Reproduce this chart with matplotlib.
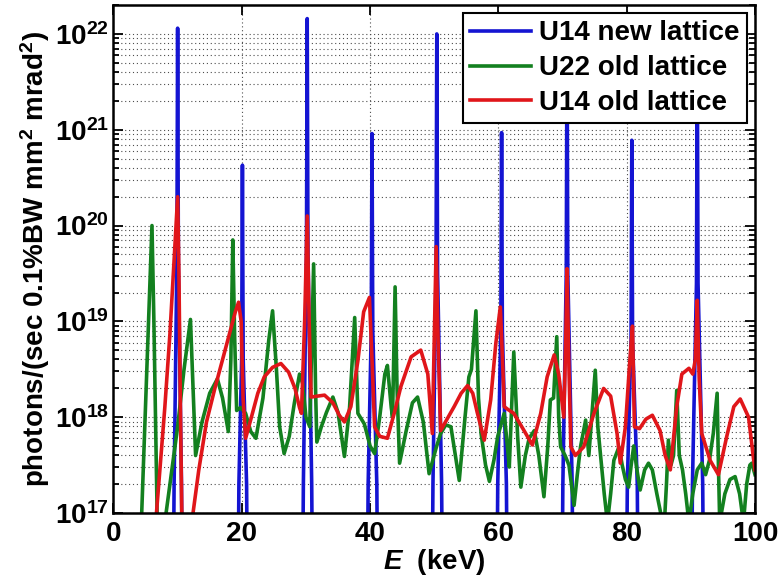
import numpy as np
import matplotlib
matplotlib.use('Agg')
import matplotlib.pyplot as plt
from matplotlib.ticker import FixedLocator, LogLocator, NullFormatter, FuncFormatter

plt.rcParams['font.family'] = ['Liberation Sans', 'DejaVu Sans']
plt.rcParams['font.weight'] = 'bold'
plt.rcParams['mathtext.fontset'] = 'custom'
plt.rcParams['mathtext.rm'] = 'Liberation Sans:bold'
plt.rcParams['mathtext.bf'] = 'Liberation Sans:bold'
plt.rcParams['mathtext.it'] = 'Liberation Sans:italic:bold'
plt.rcParams['mathtext.bfit'] = 'Liberation Sans:italic:bold'

# values, stored as log10(photons/...)
# U14 new lattice: narrow harmonic peaks
u14new_E = [9.25, 9.45, 9.88, 10.0, 10.12, 10.6, 10.8,
            19.35, 19.55, 19.98, 20.1, 20.22, 20.75, 20.95,
            29.4, 29.6, 30.08, 30.2, 30.32, 30.9, 31.1,
            39.5, 39.7, 40.18, 40.3, 40.42, 41.05, 41.25,
            49.6, 49.8, 50.28, 50.4, 50.52, 51.15, 51.35,
            59.7, 59.9, 60.38, 60.5, 60.62, 61.25, 61.45,
            69.85, 70.05, 70.58, 70.7, 70.82, 71.5, 71.7,
            79.9, 80.1, 80.68, 80.8, 80.92, 81.65, 81.85,
            90.05, 90.25, 90.88, 91.0, 91.12, 91.85, 92.05]
u14new_log = [15.5, 17.3, 19.6, 22.06, 19.6, 17.3, 15.5,
              15.5, 17.3, 18.6, 20.63, 18.6, 17.3, 15.5,
              15.5, 17.3, 19.7, 22.16, 19.7, 17.3, 15.5,
              15.5, 17.3, 18.9, 20.96, 18.9, 17.3, 15.5,
              15.5, 17.3, 19.5, 22.0, 19.5, 17.3, 15.5,
              15.5, 17.3, 18.9, 20.97, 18.9, 17.3, 15.5,
              15.5, 17.3, 19.5, 22.05, 19.5, 17.3, 15.5,
              15.5, 17.3, 18.8, 20.89, 18.8, 17.3, 15.5,
              15.5, 17.3, 19.4, 21.95, 19.4, 17.3, 15.5]

# U22 old lattice
u22old_E = [4.0, 4.4, 5.2, 6.0, 6.3, 6.8, 7.0,
            8.0, 8.2, 10.0, 11.0, 12.0, 12.4, 12.8, 13.8, 15.0, 16.2, 17.0, 17.9,
            18.3, 18.6, 18.9, 19.2, 19.8, 20.6, 21.4, 22.2, 23.3, 24.2, 24.8, 25.4,
            25.9, 26.6, 27.4, 28.2, 29.0, 29.5, 30.0, 30.6, 31.2, 31.5, 31.7, 32.4,
            33.2, 34.2, 35.0, 36.0, 36.8, 37.6, 38.1, 39.1, 40.0, 40.7, 41.5, 42.3,
            42.7, 43.3, 43.5, 43.9, 44.2, 44.6, 45.6, 46.6, 47.4, 48.3, 49.2, 50.3,
            51.0, 51.8, 52.6, 53.3, 53.9, 54.8, 55.4, 55.8, 56.5, 56.9, 57.3, 58.0,
            58.6, 59.3, 59.9, 60.9, 61.4, 61.7, 62.4, 63.0, 63.5, 64.2, 64.8, 65.6,
            66.3, 67.1, 67.7, 68.1, 68.6, 69.1, 69.4, 69.7, 70.4, 71.0, 71.8, 72.3,
            72.8, 73.6, 74.1, 75.1, 75.5, 75.9, 76.5, 77.0, 77.5, 78.0, 78.8, 79.3,
            79.8, 80.3, 80.7, 81.1, 81.6, 82.1, 82.8, 83.4, 84.0, 84.7, 85.3, 85.8,
            86.2, 86.5, 86.9, 87.3, 87.8, 88.2, 88.7, 89.2, 89.7, 90.3, 91.0, 91.7,
            92.3, 92.9, 93.5, 94.1, 94.3, 94.5, 95.3, 96.1, 96.9, 97.6, 98.2, 98.7,
            99.2, 99.5, 100.0]
u22old_log = [16.5, 17.0, 18.5, 20.0, 19.0, 17.0, 16.5,
              16.5, 17.0, 17.9, 18.5, 19.02, 18.3, 17.6, 17.95, 18.25, 18.4, 18.2, 17.85,
              18.6, 19.85, 18.8, 18.07, 18.1, 18.04, 17.85, 17.78, 18.2, 18.8, 19.11, 18.5,
              17.9, 17.62, 17.8, 18.15, 18.45, 18.35, 18.0, 17.9, 19.6, 18.3, 17.74, 17.9,
              18.05, 18.21, 18.05, 17.59, 18.1, 19.04, 18.04, 17.93, 17.7, 17.62, 18.0, 18.45,
              18.54, 18.1, 18.0, 19.36, 18.3, 17.52, 17.85, 18.15, 18.21, 17.95, 17.41, 17.68,
              17.83, 17.92, 17.9, 17.6, 17.34, 18.0, 18.42, 18.5, 19.11, 18.2, 17.83, 17.5,
              17.33, 17.55, 17.8, 18.04, 17.7, 17.48, 18.68, 17.8, 17.27, 17.6, 17.78, 17.86,
              17.6, 17.17, 17.7, 18.18, 18.2, 18.84, 18.0, 17.69, 17.6, 17.5, 17.08, 17.4,
              17.69, 17.97, 17.6, 18.49, 17.9, 17.62, 17.2, 16.9, 17.2, 17.55, 17.69, 17.5,
              17.35, 17.27, 17.5, 17.7, 17.45, 17.24, 17.45, 17.52, 17.45, 17.2, 17.0, 16.8,
              17.3, 17.76, 17.5, 17.6, 18.28, 17.6, 17.45, 17.2, 16.9, 17.2, 17.45, 17.52,
              17.4, 17.55, 17.83, 18.25, 17.5, 16.9, 17.2, 17.35, 17.38, 17.2, 16.9, 17.3,
              17.5, 17.52, 17.4]

# U14 old lattice
u14old_E = [6.5, 6.7, 8.0, 8.8, 9.5, 10.0, 10.2, 10.45, 10.65, 10.8,
            12.2, 12.4, 13.3, 14.5, 15.8, 17.0, 18.2, 19.0, 19.5, 19.9, 20.2, 20.6,
            21.5, 22.5, 23.5, 24.8, 26.1, 27.3, 28.3, 29.0, 29.3, 29.8, 30.2, 30.5,
            30.8, 31.8, 32.9, 34.2, 35.2, 36.0, 37.0, 38.1, 39.0, 39.9, 40.3, 40.7,
            41.5, 42.7, 43.8, 44.8, 46.4, 47.9, 49.0, 49.7, 50.0, 50.3, 50.6, 51.0,
            52.0, 53.1, 54.2, 55.2, 56.0, 56.7, 57.8, 58.8, 59.6, 60.3, 60.7, 60.9,
            61.5, 62.4, 63.2, 64.0, 65.3, 66.6, 67.6, 68.7, 69.4, 70.2, 70.5, 70.7,
            71.0, 71.3, 72.0, 73.3, 74.9, 76.4, 77.5, 78.5, 79.0, 79.8, 80.5, 80.9,
            81.2, 82.0, 83.0, 84.0, 85.2, 86.0, 86.8, 87.8, 88.6, 89.7, 90.3, 90.7,
            91.0, 91.3, 91.7, 93.0, 94.3, 95.6, 96.7, 97.7, 99.0, 99.8, 100.0]
u14old_log = [16.5, 17.0, 18.1, 18.87, 19.7, 20.3, 19.5, 18.0, 17.0, 16.5,
              16.5, 17.0, 17.45, 17.95, 18.3, 18.6, 18.9, 19.1, 19.2, 19.0, 18.2, 17.78,
              18.0, 18.25, 18.42, 18.52, 18.56, 18.47, 18.3, 18.1, 18.04, 19.0, 20.1, 19.0,
              18.21, 18.22, 18.23, 18.15, 18.02, 17.95, 18.11, 18.59, 19.1, 19.25, 18.6, 17.9,
              17.8, 17.78, 18.05, 18.32, 18.63, 18.7, 18.45, 17.83, 18.8, 19.78, 18.8, 17.86,
              17.98, 18.11, 18.25, 18.33, 18.25, 18.05, 17.76, 18.18, 18.77, 19.15, 18.5, 18.11,
              18.08, 18.04, 17.95, 17.86, 17.71, 18.04, 18.42, 18.65, 18.45, 18.0, 18.8, 19.55,
              18.5, 17.69, 17.6, 17.69, 18.04, 18.3, 18.22, 17.83, 17.52, 17.9, 18.6, 18.95,
              17.9, 17.88, 17.98, 18.02, 17.86, 17.6, 17.45, 18.11, 18.45, 18.51, 18.45, 18.6,
              19.22, 18.4, 17.83, 17.55, 17.4, 17.8, 18.11, 18.19, 18.0, 17.55, 17.45]

series_labels = ['U14 new lattice', 'U22 old lattice', 'U14 old lattice']
x_ticks = [0, 20, 40, 60, 80, 100]

fig = plt.figure(figsize=(7.81, 5.79), dpi=100)
ax = fig.add_axes([0.1453, 0.114, 0.8214, 0.8772])

lw = 2.6
ax.plot(u14new_E, 10 ** np.array(u14new_log), color='#1414d2', lw=lw, label=series_labels[0])
ax.plot(u22old_E, 10 ** np.array(u22old_log), color='#13801f', lw=lw, label=series_labels[1])
ax.plot(u14old_E, 10 ** np.array(u14old_log), color='#e0161a', lw=lw, label=series_labels[2])

ax.set_yscale('log')
ax.set_xlim(0, 100)
ax.set_ylim(1e17, 2e22)
ax.xaxis.set_major_locator(FixedLocator(x_ticks))
ax.yaxis.set_major_locator(LogLocator(base=10, numticks=20))
ax.yaxis.set_minor_locator(LogLocator(base=10, subs=np.arange(2, 10), numticks=20))
ax.yaxis.set_minor_formatter(NullFormatter())
ax.yaxis.set_major_formatter(FuncFormatter(lambda v, p: r'$\mathbf{10^{%d}}$' % round(np.log10(v))))

ax.grid(True, which='major', axis='both', linestyle=(0, (1, 2.5)), color='0.3', lw=0.8)
ax.grid(True, which='minor', axis='y', linestyle=(0, (1, 2.5)), color='0.3', lw=0.8)
ax.set_axisbelow(True)

ax.tick_params(which='both', direction='in', top=True, right=True, labelsize=20, width=1.3)
ax.tick_params(which='major', length=7)
ax.tick_params(axis='x', which='major', pad=6)
ax.tick_params(axis='y', which='major', pad=3)
ax.tick_params(which='minor', length=4)
for s in ax.spines.values():
    s.set_linewidth(1.8)

ax.set_xlabel(r'$\mathbfit{E}$  (keV)', fontsize=20, fontweight='bold', labelpad=0)
ax.set_ylabel(r'photons/(sec 0.1%BW mm$^\mathbf{2}$ mrad$^\mathbf{2}$)', fontsize=20,
              fontweight='bold', labelpad=2)

leg = ax.legend(loc='upper right', fontsize=20, handlelength=2.2, handletextpad=0.3,
                borderaxespad=0.3, labelspacing=0.32, borderpad=0.25, fancybox=False,
                framealpha=1, edgecolor='black')
leg.get_frame().set_linewidth(1.5)

fig.savefig('out.png', dpi=100)
